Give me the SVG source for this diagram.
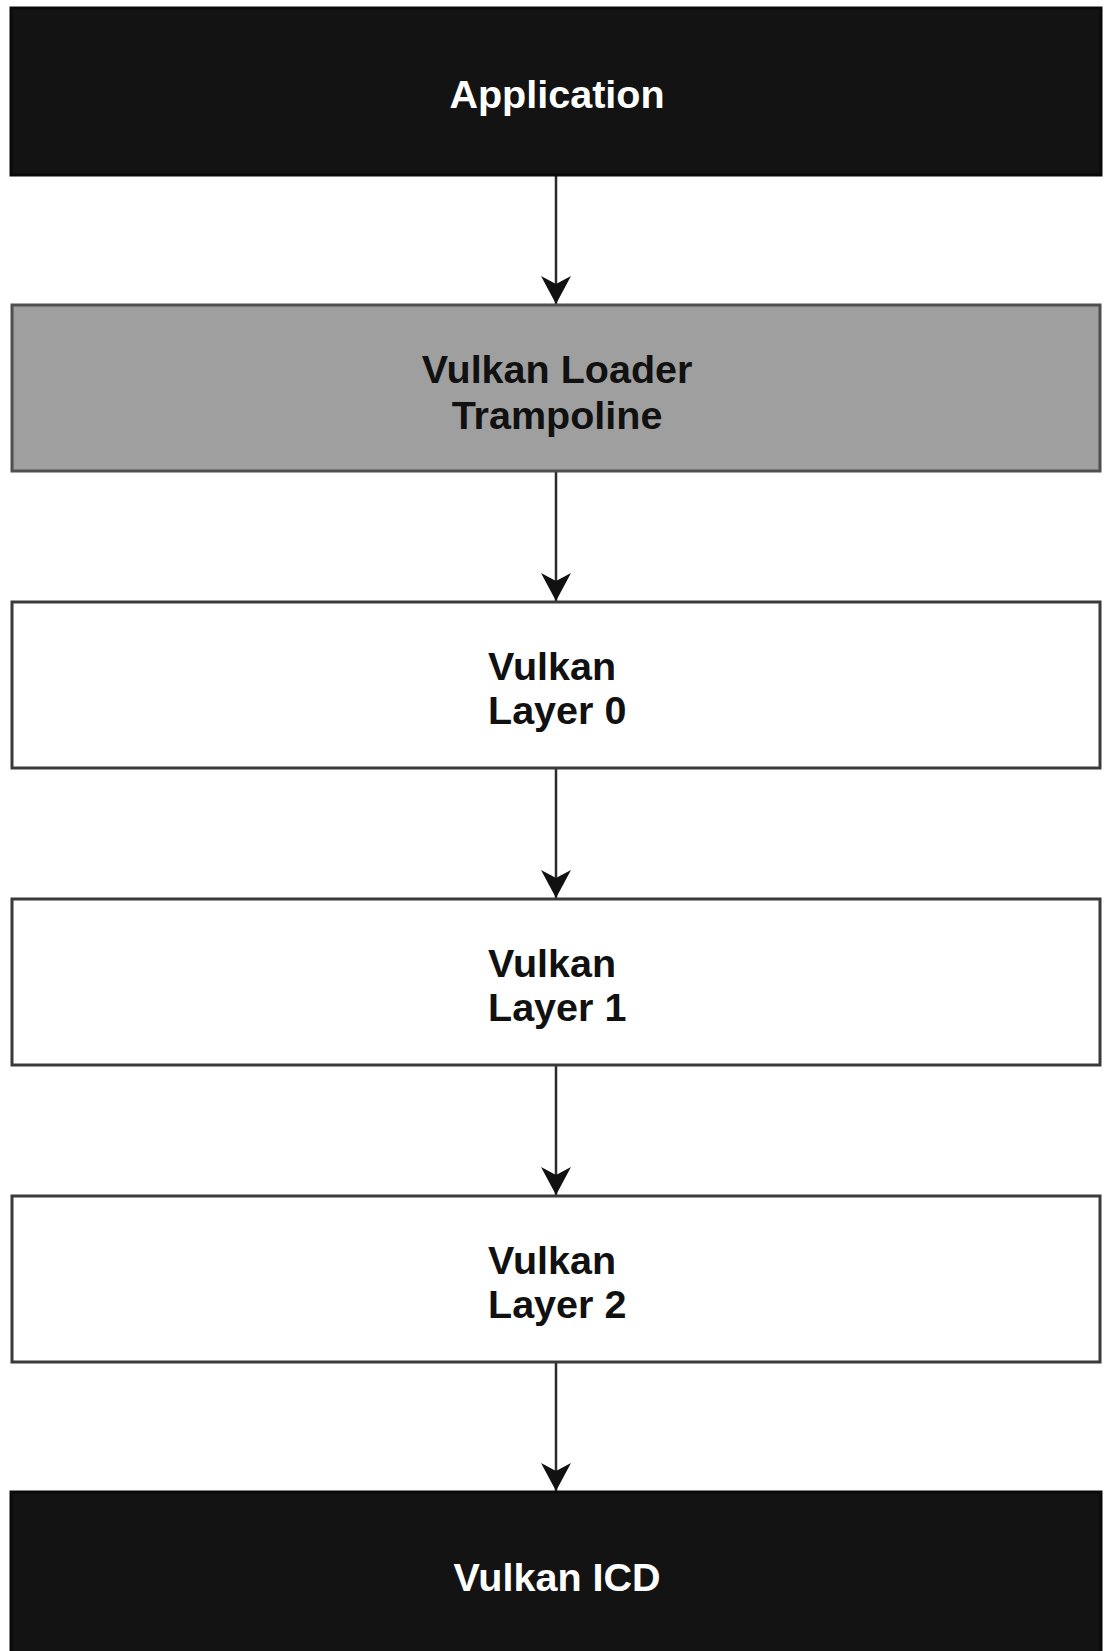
<svg xmlns="http://www.w3.org/2000/svg" width="1104" height="1651" viewBox="0 0 1104 1651">
  <style>
    .box { stroke-width: 3; }
    .dark { fill: #131313; stroke: #0a0a0a; }
    .grey { fill: #9f9f9f; stroke: #4f4f4f; }
    .light { fill: #ffffff; stroke: #3a3a3a; }
    .lbl { font-family: "Liberation Sans", Arial, sans-serif; font-weight: bold; font-size: 39.5px; }
    .lbl-dark { fill: #ffffff; text-anchor: middle; }
    .lbl-light { fill: #111111; }
    .wire { stroke: #2b2b2b; stroke-width: 2.5; fill: none; }
  </style>
  <defs>
    <marker id="arrow" markerUnits="userSpaceOnUse" viewBox="0 0 30 30" markerWidth="30" markerHeight="30" refX="28" refY="15" orient="auto">
      <path d="M0,0 L28,15 L0,30 L8,15 Z" fill="#111111"/>
    </marker>
  </defs>

  <rect width="1104" height="1651" fill="#ffffff"/>

  <g id="connectors">
    <line class="wire" x1="556" y1="175" x2="556" y2="304" marker-end="url(#arrow)"/>
    <line class="wire" x1="556" y1="471" x2="556" y2="601" marker-end="url(#arrow)"/>
    <line class="wire" x1="556" y1="768" x2="556" y2="898" marker-end="url(#arrow)"/>
    <line class="wire" x1="556" y1="1065" x2="556" y2="1195" marker-end="url(#arrow)"/>
    <line class="wire" x1="556" y1="1362" x2="556" y2="1491" marker-end="url(#arrow)"/>
  </g>

  <g id="application">
    <rect class="box dark" x="11" y="8" width="1090" height="167"/>
    <text class="lbl lbl-dark" x="557" y="108">Application</text>
  </g>

  <g id="loader-trampoline">
    <rect class="box grey" x="12" y="305" width="1088" height="166"/>
    <text class="lbl lbl-light" x="557" y="383" text-anchor="middle">Vulkan Loader</text>
    <text class="lbl lbl-light" x="557" y="429" text-anchor="middle">Trampoline</text>
  </g>

  <g id="layer-0">
    <rect class="box light" x="12" y="602" width="1088" height="166"/>
    <text class="lbl lbl-light" x="488" y="680">Vulkan</text>
    <text class="lbl lbl-light" x="488" y="724">Layer 0</text>
  </g>

  <g id="layer-1">
    <rect class="box light" x="12" y="899" width="1088" height="166"/>
    <text class="lbl lbl-light" x="488" y="977">Vulkan</text>
    <text class="lbl lbl-light" x="488" y="1021">Layer 1</text>
  </g>

  <g id="layer-2">
    <rect class="box light" x="12" y="1196" width="1088" height="166"/>
    <text class="lbl lbl-light" x="488" y="1274">Vulkan</text>
    <text class="lbl lbl-light" x="488" y="1318">Layer 2</text>
  </g>

  <g id="vulkan-icd">
    <rect class="box dark" x="11" y="1492" width="1090" height="170"/>
    <text class="lbl lbl-dark" x="557" y="1591">Vulkan ICD</text>
  </g>
</svg>
